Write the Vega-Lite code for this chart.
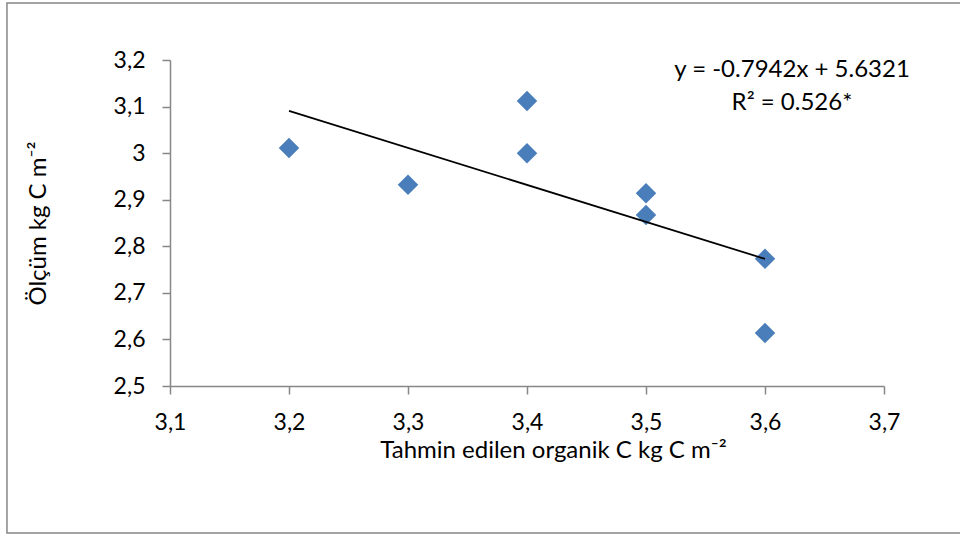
{
  "$schema": "https://vega.github.io/schema/vega-lite/v6.json",
  "width": 714,
  "height": 326,
  "autosize": {"type": "none"},
  "padding": {"left": 170, "top": 60, "right": 76, "bottom": 150},
  "background": "white",
  "config": {
    "view": {"stroke": null},
    "font": "Lato",
    "axis": {
      "grid": false,
      "domainColor": "#878787",
      "domainWidth": 1.5,
      "tickColor": "#878787",
      "tickWidth": 1.5,
      "tickSize": 8,
      "labelFont": "Lato",
      "labelFontSize": 23,
      "labelColor": "#000000",
      "labelPadding": 17,
      "labelFlush": false,
      "labelOverlap": false,
      "labelBound": false,
      "labelExpr": "replace(format(datum.value, '~g'), '.', ',')",
      "titleFont": "Lato",
      "titleFontSize": 24,
      "titleFontWeight": "normal",
      "titleColor": "#000000"
    },
    "axisX": {"titlePadding": 4, "titleX": 383},
    "axisY": {"titlePadding": 63}
  },
  "datasets": {
    "olcum": [
      {"tahmin": 3.2, "olcum": 3.011},
      {"tahmin": 3.3, "olcum": 2.932},
      {"tahmin": 3.4, "olcum": 3.112},
      {"tahmin": 3.4, "olcum": 3.0},
      {"tahmin": 3.5, "olcum": 2.914},
      {"tahmin": 3.5, "olcum": 2.867},
      {"tahmin": 3.6, "olcum": 2.773},
      {"tahmin": 3.6, "olcum": 2.614}
    ],
    "trend": [
      {"tahmin": 3.2, "olcum": 3.0907},
      {"tahmin": 3.6, "olcum": 2.773}
    ]
  },
  "layer": [
    {
      "description": "chart frame",
      "data": {"values": [{}]},
      "mark": {"type": "rect", "fillOpacity": 0, "stroke": "#878787", "strokeWidth": 1.5},
      "encoding": {
        "x": {"datum": 2.963, "type": "quantitative", "title": "Tahmin edilen organik C kg C m⁻²", "scale": {"domain": [3.1, 3.7], "nice": false, "zero": false}, "axis": {"values": [3.1, 3.2, 3.3, 3.4, 3.5, 3.6, 3.7]}},
        "x2": {"datum": 3.8},
        "y": {"datum": 3.3224, "type": "quantitative", "title": "Ölçüm kg C m⁻²", "scale": {"domain": [2.5, 3.2], "nice": false, "zero": false}, "axis": {"values": [2.5, 2.6, 2.7, 2.8, 2.9, 3.0, 3.1, 3.2]}},
        "y2": {"datum": 2.1843}
      }
    },
    {
      "data": {"name": "olcum"},
      "mark": {"type": "point", "shape": "diamond", "filled": true, "size": 420, "color": "#4A7EBB", "opacity": 1},
      "encoding": {
        "x": {"field": "tahmin", "type": "quantitative", "title": "Tahmin edilen organik C kg C m⁻²", "scale": {"domain": [3.1, 3.7], "nice": false, "zero": false}, "axis": {"values": [3.1, 3.2, 3.3, 3.4, 3.5, 3.6, 3.7]}},
        "y": {"field": "olcum", "type": "quantitative", "title": "Ölçüm kg C m⁻²", "scale": {"domain": [2.5, 3.2], "nice": false, "zero": false}, "axis": {"values": [2.5, 2.6, 2.7, 2.8, 2.9, 3.0, 3.1, 3.2]}}
      }
    },
    {
      "description": "linear trend y = -0.7942x + 5.6321",
      "data": {"name": "trend"},
      "mark": {"type": "line", "color": "#000000", "strokeWidth": 1.75},
      "encoding": {
        "x": {"field": "tahmin", "type": "quantitative", "title": "Tahmin edilen organik C kg C m⁻²", "scale": {"domain": [3.1, 3.7], "nice": false, "zero": false}, "axis": {"values": [3.1, 3.2, 3.3, 3.4, 3.5, 3.6, 3.7]}},
        "y": {"field": "olcum", "type": "quantitative", "title": "Ölçüm kg C m⁻²", "scale": {"domain": [2.5, 3.2], "nice": false, "zero": false}, "axis": {"values": [2.5, 2.6, 2.7, 2.8, 2.9, 3.0, 3.1, 3.2]}}
      }
    },
    {
      "data": {"values": [{}]},
      "mark": {"type": "text", "text": "y = -0.7942x + 5.6321", "font": "Lato", "fontSize": 24, "color": "#000000", "align": "center", "baseline": "middle"},
      "encoding": {
        "x": {"datum": 3.6227, "type": "quantitative", "title": "Tahmin edilen organik C kg C m⁻²", "scale": {"domain": [3.1, 3.7], "nice": false, "zero": false}, "axis": {"values": [3.1, 3.2, 3.3, 3.4, 3.5, 3.6, 3.7]}},
        "y": {"datum": 3.1786, "type": "quantitative", "title": "Ölçüm kg C m⁻²", "scale": {"domain": [2.5, 3.2], "nice": false, "zero": false}, "axis": {"values": [2.5, 2.6, 2.7, 2.8, 2.9, 3.0, 3.1, 3.2]}}
      }
    },
    {
      "data": {"values": [{}]},
      "mark": {"type": "text", "text": "R² = 0.526*", "font": "Lato", "fontSize": 24, "color": "#000000", "align": "center", "baseline": "middle"},
      "encoding": {
        "x": {"datum": 3.6227, "type": "quantitative", "title": "Tahmin edilen organik C kg C m⁻²", "scale": {"domain": [3.1, 3.7], "nice": false, "zero": false}, "axis": {"values": [3.1, 3.2, 3.3, 3.4, 3.5, 3.6, 3.7]}},
        "y": {"datum": 3.1077, "type": "quantitative", "title": "Ölçüm kg C m⁻²", "scale": {"domain": [2.5, 3.2], "nice": false, "zero": false}, "axis": {"values": [2.5, 2.6, 2.7, 2.8, 2.9, 3.0, 3.1, 3.2]}}
      }
    }
  ]
}
